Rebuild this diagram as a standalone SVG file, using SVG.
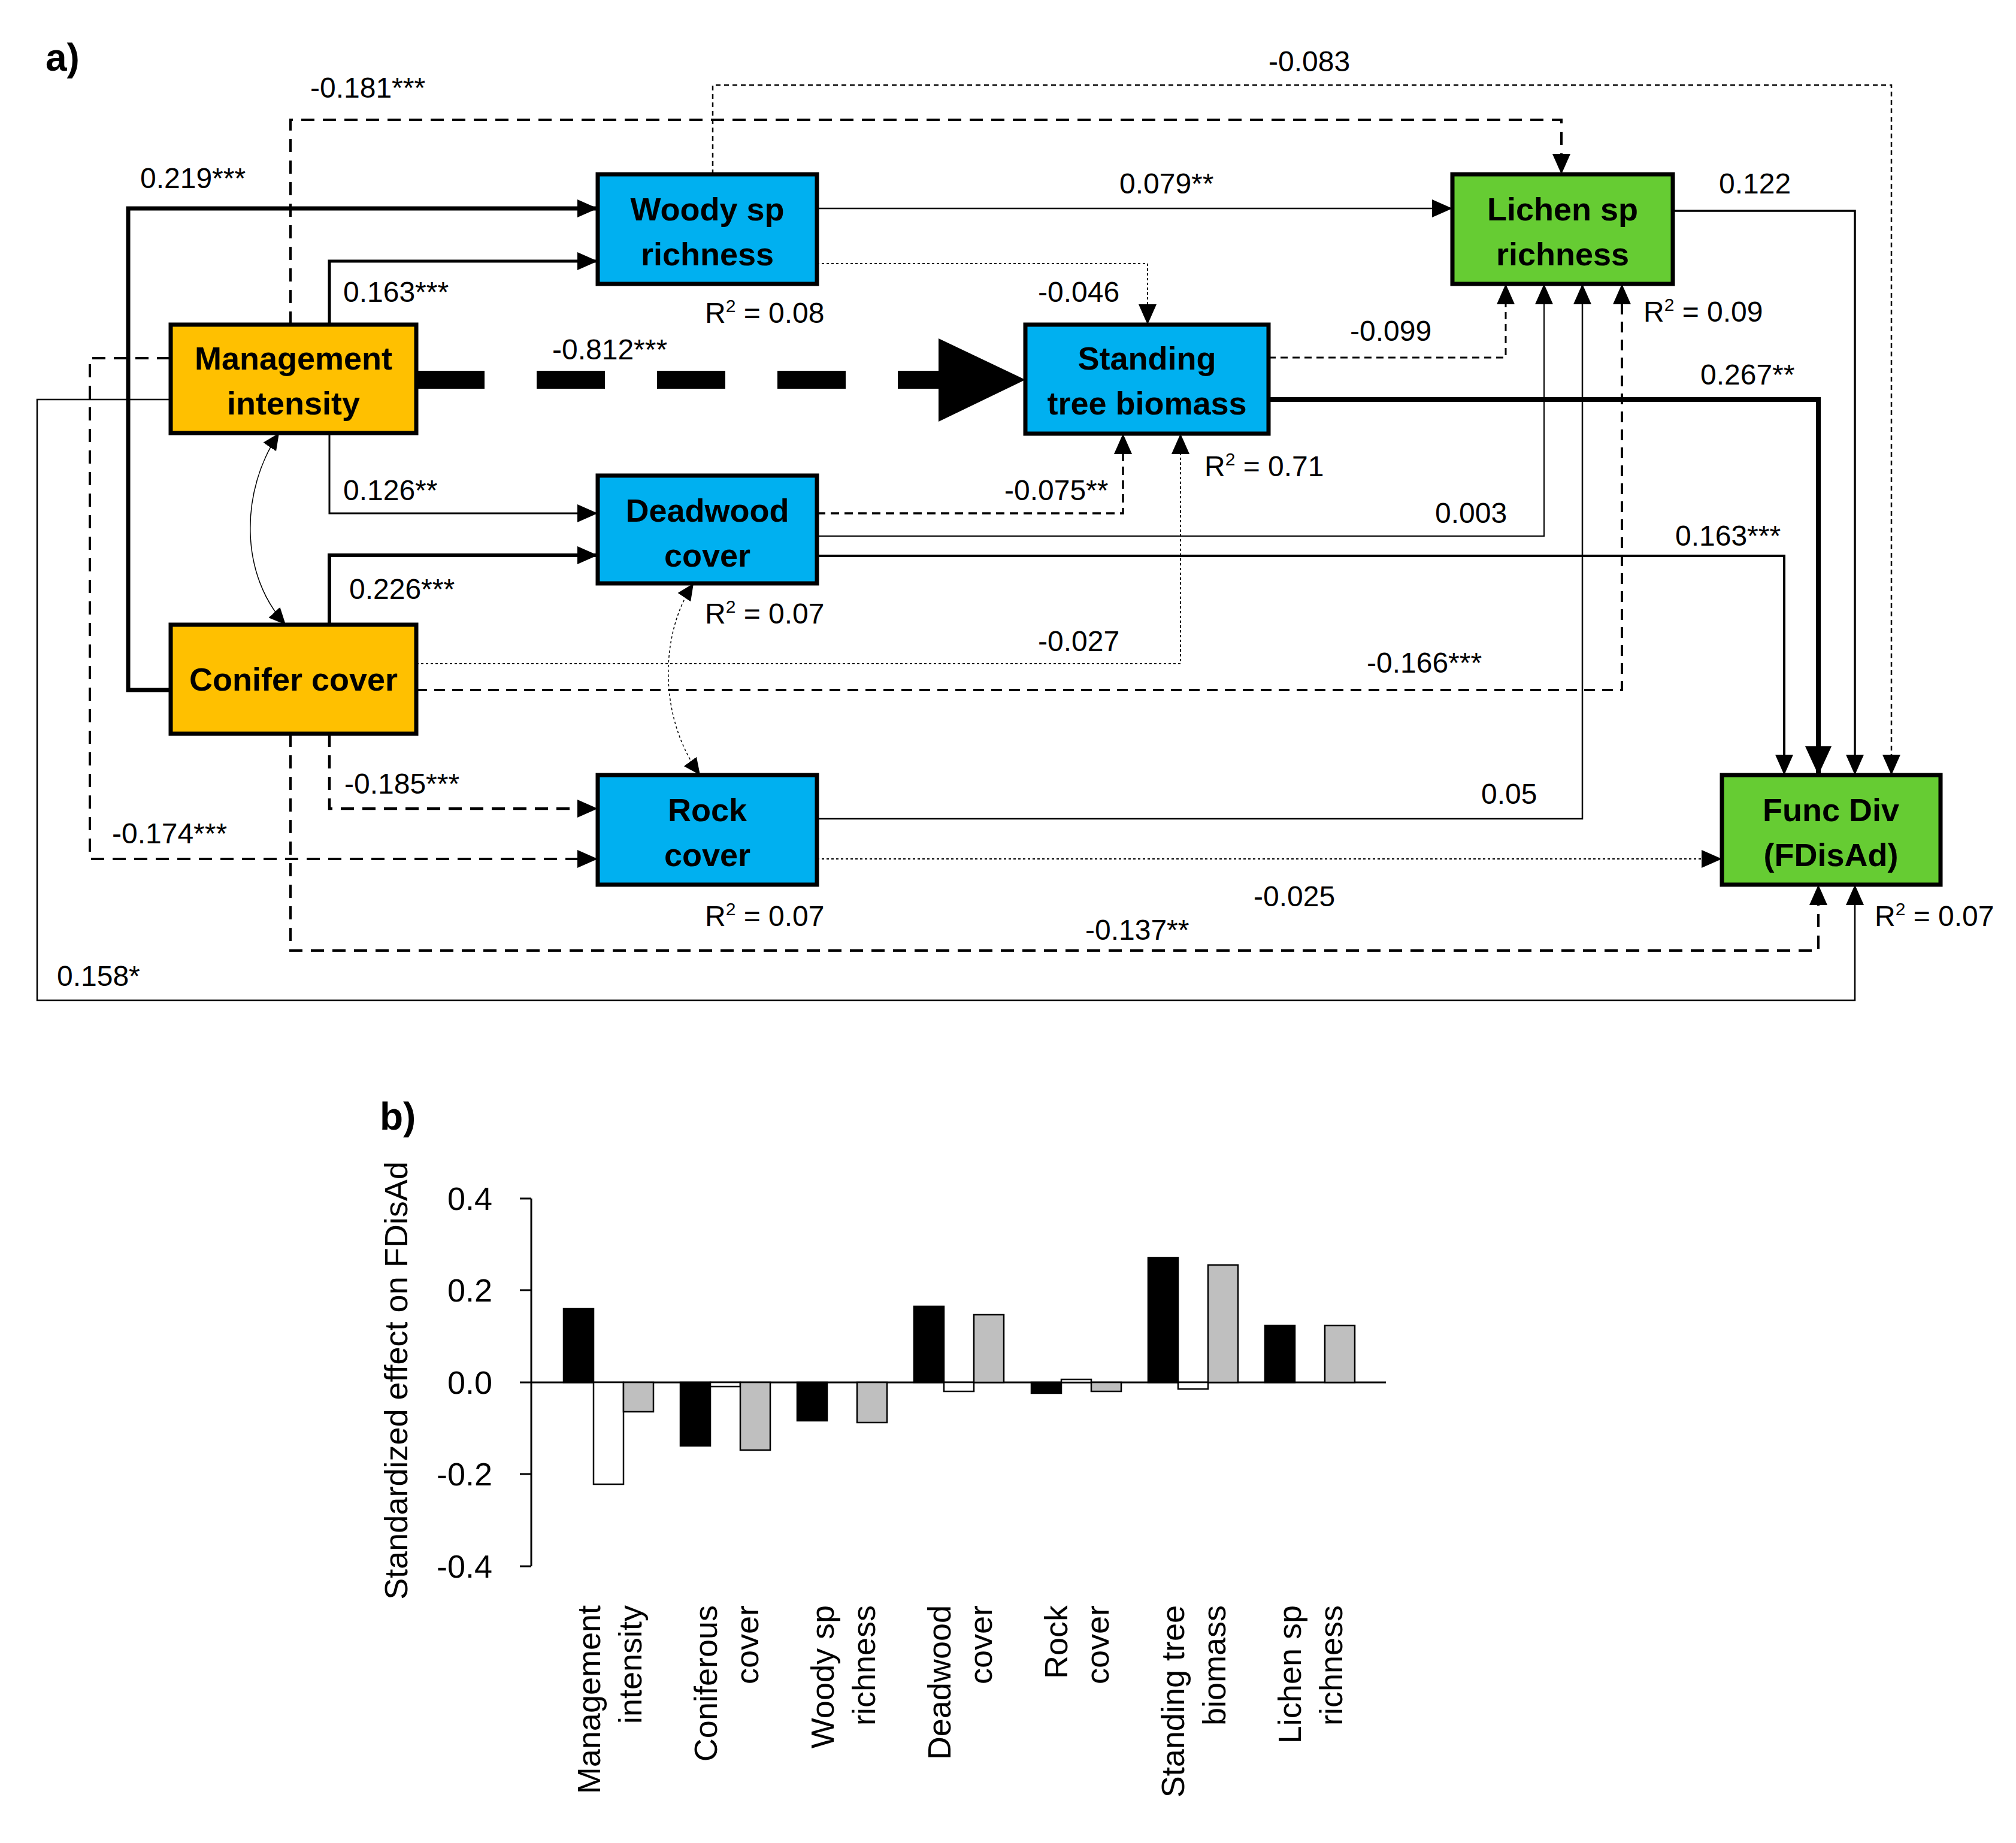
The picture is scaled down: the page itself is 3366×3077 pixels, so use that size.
<svg xmlns="http://www.w3.org/2000/svg" width="3366" height="3077" viewBox="0 0 3366 3077">
<style>
.bx{stroke:#000;stroke-width:7}
.bt{font-family:"Liberation Sans",Arial,sans-serif;font-weight:bold;font-size:54px;text-anchor:middle}
.lb{font-family:"Liberation Sans",Arial,sans-serif;font-size:48px}
.c{fill:none;stroke:#000}
.ax{font-family:"Liberation Sans",Arial,sans-serif;font-size:54px}
</style>
<defs>
<marker id="a" markerUnits="userSpaceOnUse" markerWidth="34" markerHeight="30" refX="34" refY="15" orient="auto"><path d="M0,0 L34,15 L0,30 z"/></marker>
<marker id="ab" markerUnits="userSpaceOnUse" markerWidth="48" markerHeight="44" refX="48" refY="22" orient="auto"><path d="M0,0 L48,22 L0,44 z"/></marker>
<marker id="as" markerUnits="userSpaceOnUse" markerWidth="28" markerHeight="26" refX="28" refY="13" orient="auto-start-reverse"><path d="M0,0 L28,13 L0,26 z"/></marker>
</defs>
<rect width="3366" height="3077" fill="#fff"/>
<text x="76" y="118" font-family="Liberation Sans,Arial,sans-serif" font-weight="bold" font-size="64">a)</text>
<g id="connectors">
<path class="c" stroke-width="7" marker-end="url(#a)" d="M284,1152 H214 V348 H998"/>
<path class="c" stroke-width="5" marker-end="url(#a)" d="M550,542 V436 H998"/>
<path class="c" stroke-width="3" marker-end="url(#a)" d="M550,723 V857 H998"/>
<path class="c" stroke-width="6" marker-end="url(#a)" d="M550,1043 V927 H998"/>
<path class="c" stroke-width="4" stroke-dasharray="22 14" marker-end="url(#a)" d="M485,542 V200 H2607 V291"/>
<path class="c" stroke-width="2.5" stroke-dasharray="8 6" marker-end="url(#a)" d="M1190,291 V142 H3158 V1294"/>
<path class="c" stroke-width="4" stroke-dasharray="22 14" marker-end="url(#a)" d="M284,598 H150 V1434 H998"/>
<path class="c" stroke-width="4.5" stroke-dasharray="22 14" marker-end="url(#a)" d="M550,1225 V1350 H998"/>
<path class="c" stroke-width="4" stroke-dasharray="22 14" marker-end="url(#a)" d="M485,1225 V1587 H3036 V1477"/>
<path class="c" stroke-width="2.5" marker-end="url(#a)" d="M284,667 H62 V1670 H3097 V1477"/>
<path class="c" stroke-width="30" stroke-dasharray="114 87" d="M695,634 H1567"/>
<polygon points="1567,565 1712,634 1567,704"/>
<path class="c" stroke-width="2.5" marker-end="url(#a)" d="M1364,348 H2425"/>
<path class="c" stroke="#777" stroke-width="2" stroke-dasharray="4 4" marker-end="url(#a)" d="M1364,440 H1916 V542"/>
<path class="c" stroke-width="3" stroke-dasharray="12 8" marker-end="url(#a)" d="M2118,597 H2514 V474"/>
<path class="c" stroke-width="8" marker-end="url(#ab)" d="M2118,667 H3036 V1294"/>
<path class="c" stroke-width="3.5" stroke-dasharray="14 9" marker-end="url(#a)" d="M1364,857 H1875 V724"/>
<path class="c" stroke="#777" stroke-width="2" marker-end="url(#a)" d="M1364,895 H2578 V474"/>
<path class="c" stroke-width="4" marker-end="url(#a)" d="M1364,928 H2979 V1294"/>
<path class="c" stroke="#777" stroke-width="2" stroke-dasharray="4 4" marker-end="url(#a)" d="M695,1108 H1971 V724"/>
<path class="c" stroke-width="4" stroke-dasharray="18 12" marker-end="url(#a)" d="M695,1152 H2708 V474"/>
<path class="c" stroke-width="2.5" marker-end="url(#a)" d="M1364,1367 H2642 V474"/>
<path class="c" stroke-width="2" stroke-dasharray="4 4" marker-end="url(#a)" d="M1364,1434 H2875"/>
<path class="c" stroke-width="3.5" marker-end="url(#a)" d="M2793,352 H3097 V1294"/>
<path class="c" stroke-width="1.5" marker-start="url(#as)" marker-end="url(#as)" d="M466,723 C400,820 400,960 477,1043"/>
<path class="c" stroke="#555" stroke-width="1.5" stroke-dasharray="4 4" marker-start="url(#as)" marker-end="url(#as)" d="M1158,974 C1100,1060 1100,1200 1169,1294"/>
</g>
<g id="mgmt"><rect class="bx" x="285" y="542" width="410" height="181" fill="#FFC000"/><text class="bt" x="490" y="617">Management</text><text class="bt" x="490" y="692">intensity</text></g>
<g id="conifer"><rect class="bx" x="285" y="1043" width="410" height="182" fill="#FFC000"/><text class="bt" x="490" y="1153">Conifer cover</text></g>
<g id="woody"><rect class="bx" x="998" y="291" width="366" height="183" fill="#00B0F0"/><text class="bt" x="1181" y="368">Woody sp</text><text class="bt" x="1181" y="443">richness</text></g>
<g id="deadwood"><rect class="bx" x="998" y="794" width="366" height="180" fill="#00B0F0"/><text class="bt" x="1181" y="871">Deadwood</text><text class="bt" x="1181" y="946">cover</text></g>
<g id="rock"><rect class="bx" x="998" y="1294" width="366" height="183" fill="#00B0F0"/><text class="bt" x="1181" y="1371">Rock</text><text class="bt" x="1181" y="1446">cover</text></g>
<g id="standing"><rect class="bx" x="1712" y="542" width="406" height="182" fill="#00B0F0"/><text class="bt" x="1915" y="617">Standing</text><text class="bt" x="1915" y="692">tree biomass</text></g>
<g id="lichen"><rect class="bx" x="2425" y="291" width="368" height="183" fill="#66CC33"/><text class="bt" x="2609" y="368">Lichen sp</text><text class="bt" x="2609" y="443">richness</text></g>
<g id="funcdiv"><rect class="bx" x="2875" y="1294" width="365" height="183" fill="#66CC33"/><text class="bt" x="3057" y="1371">Func Div</text><text class="bt" x="3057" y="1446">(FDisAd)</text></g>
<g id="labels" class="lb">
<text x="518" y="163">-0.181***</text>
<text x="234" y="314">0.219***</text>
<text x="573" y="504">0.163***</text>
<text x="922" y="600">-0.812***</text>
<text x="573" y="835">0.126**</text>
<text x="583" y="1000">0.226***</text>
<text x="575" y="1325">-0.185***</text>
<text x="187" y="1408">-0.174***</text>
<text x="95" y="1646">0.158*</text>
<text x="2118" y="119">-0.083</text>
<text x="1869" y="323">0.079**</text>
<text x="2870" y="323">0.122</text>
<text x="1733" y="504">-0.046</text>
<text x="2254" y="569">-0.099</text>
<text x="2839" y="642">0.267**</text>
<text x="1677" y="835">-0.075**</text>
<text x="2396" y="873">0.003</text>
<text x="2797" y="911">0.163***</text>
<text x="1733" y="1087">-0.027</text>
<text x="2282" y="1123">-0.166***</text>
<text x="2473" y="1342">0.05</text>
<text x="2093" y="1513">-0.025</text>
<text x="1812" y="1569">-0.137**</text>
<text x="1177" y="539">R<tspan font-size="30" dy="-18">2</tspan><tspan dy="18"> = 0.08</tspan></text>
<text x="1177" y="1041">R<tspan font-size="30" dy="-18">2</tspan><tspan dy="18"> = 0.07</tspan></text>
<text x="1177" y="1546">R<tspan font-size="30" dy="-18">2</tspan><tspan dy="18"> = 0.07</tspan></text>
<text x="2011" y="795">R<tspan font-size="30" dy="-18">2</tspan><tspan dy="18"> = 0.71</tspan></text>
<text x="2744" y="537">R<tspan font-size="30" dy="-18">2</tspan><tspan dy="18"> = 0.09</tspan></text>
<text x="3130" y="1546">R<tspan font-size="30" dy="-18">2</tspan><tspan dy="18"> = 0.07</tspan></text>
</g>
<g id="chart">
<text x="634" y="1886" font-family="Liberation Sans,Arial,sans-serif" font-weight="bold" font-size="64">b)</text>
<g fill="none" stroke="#000" stroke-width="3">
<path d="M887,2001 V2615 M868,2001 H887 M868,2154 H887 M868,2308 H887 M868,2461 H887 M868,2615 H887 M887,2308 H2314"/>
</g>
<g class="ax" text-anchor="end">
<text x="822" y="2020">0.4</text><text x="822" y="2173">0.2</text><text x="822" y="2327">0.0</text><text x="822" y="2480">-0.2</text><text x="822" y="2634">-0.4</text>
</g>
<text class="ax" transform="translate(680,2305) rotate(-90)" text-anchor="middle">Standardized effect on FDisAd</text>
<g stroke="#000" stroke-width="2.5">
<rect x="941" y="2185" width="50" height="123" fill="#000"/>
<rect x="991" y="2308" width="50" height="170" fill="#fff"/>
<rect x="1041" y="2308" width="50" height="49" fill="#bfbfbf"/>
<rect x="1136" y="2308" width="50" height="106" fill="#000"/>
<rect x="1186" y="2308" width="50" height="7" fill="#fff"/>
<rect x="1236" y="2308" width="50" height="113" fill="#bfbfbf"/>
<rect x="1331" y="2308" width="50" height="64" fill="#000"/>
<rect x="1431" y="2308" width="50" height="67" fill="#bfbfbf"/>
<rect x="1526" y="2181" width="50" height="127" fill="#000"/>
<rect x="1576" y="2308" width="50" height="15" fill="#fff"/>
<rect x="1626" y="2195" width="50" height="113" fill="#bfbfbf"/>
<rect x="1722" y="2308" width="50" height="18" fill="#000"/>
<rect x="1772" y="2303" width="50" height="5" fill="#fff"/>
<rect x="1822" y="2308" width="50" height="15" fill="#bfbfbf"/>
<rect x="1917" y="2100" width="50" height="208" fill="#000"/>
<rect x="1967" y="2308" width="50" height="11" fill="#fff"/>
<rect x="2017" y="2112" width="50" height="196" fill="#bfbfbf"/>
<rect x="2112" y="2213" width="50" height="95" fill="#000"/>
<rect x="2212" y="2213" width="50" height="95" fill="#bfbfbf"/>
</g>
<g class="ax" font-size="48" text-anchor="end">
<text transform="translate(1002,2680) rotate(-90)">Management</text><text transform="translate(1071,2680) rotate(-90)">intensity</text>
<text transform="translate(1197,2680) rotate(-90)">Coniferous</text><text transform="translate(1266,2680) rotate(-90)">cover</text>
<text transform="translate(1392,2680) rotate(-90)">Woody sp</text><text transform="translate(1461,2680) rotate(-90)">richness</text>
<text transform="translate(1587,2680) rotate(-90)">Deadwood</text><text transform="translate(1656,2680) rotate(-90)">cover</text>
<text transform="translate(1782,2680) rotate(-90)">Rock</text><text transform="translate(1851,2680) rotate(-90)">cover</text>
<text transform="translate(1977,2680) rotate(-90)">Standing tree</text><text transform="translate(2046,2680) rotate(-90)">biomass</text>
<text transform="translate(2172,2680) rotate(-90)">Lichen sp</text><text transform="translate(2241,2680) rotate(-90)">richness</text>
</g>
</g>
</svg>
